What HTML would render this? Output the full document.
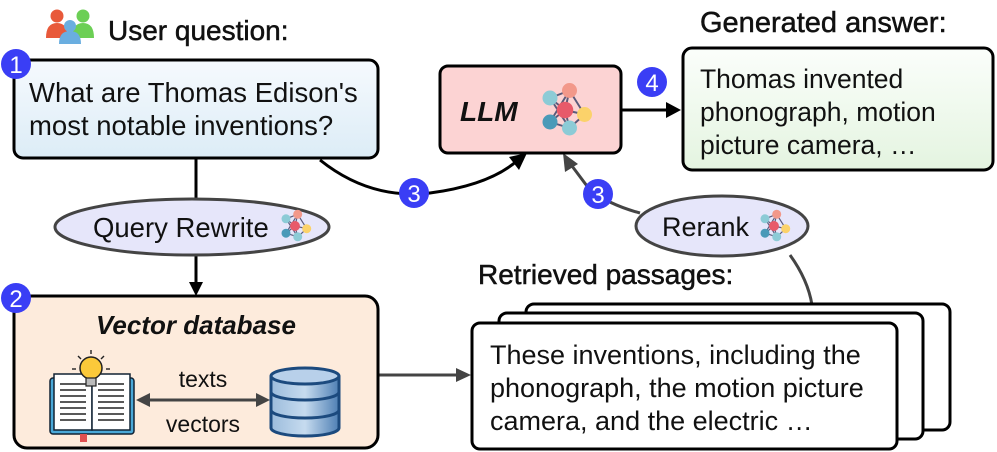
<!DOCTYPE html>
<html><head><meta charset="utf-8"><style>
html,body{margin:0;padding:0;background:#fff;}
svg{display:block;font-family:"Liberation Sans",Arial,sans-serif;}
</style></head><body>
<svg width="997" height="452" viewBox="0 0 997 452" xmlns="http://www.w3.org/2000/svg">
<defs>
<linearGradient id="gq" x1="0" y1="0" x2="0" y2="1"><stop offset="0" stop-color="#f6fafe"/><stop offset="1" stop-color="#dcecf6"/></linearGradient>
<linearGradient id="ga" x1="0" y1="0" x2="0" y2="1"><stop offset="0" stop-color="#fbfefb"/><stop offset="1" stop-color="#e4f4e0"/></linearGradient>
<linearGradient id="gdb" x1="0" y1="0" x2="1" y2="0"><stop offset="0" stop-color="#9cbcdc"/><stop offset="0.5" stop-color="#c6dbef"/><stop offset="1" stop-color="#4e7fb4"/></linearGradient>
<g id="net">
 <g stroke="#5a5a7a" stroke-width="1.3">
  <line x1="-10" y1="-8" x2="3" y2="-13"/><line x1="-10" y1="-8" x2="0" y2="0"/><line x1="-10" y1="-8" x2="3" y2="12"/>
  <line x1="3" y1="-13" x2="0" y2="0"/><line x1="3" y1="-13" x2="13" y2="3"/><line x1="0" y1="0" x2="13" y2="3"/>
  <line x1="-10" y1="8" x2="0" y2="0"/><line x1="-10" y1="8" x2="3" y2="12"/><line x1="0" y1="0" x2="3" y2="12"/><line x1="13" y1="3" x2="3" y2="12"/><line x1="-10" y1="8" x2="3" y2="-13"/>
 </g>
 <circle cx="-10" cy="-8" r="5" fill="#8ccbd6"/><circle cx="3" cy="-13" r="5" fill="#f2988a"/>
 <circle cx="0" cy="0" r="5.5" fill="#e85a6a"/><circle cx="13" cy="3" r="5" fill="#fbd26a"/>
 <circle cx="-10" cy="8" r="5" fill="#4a9ab8"/><circle cx="3" cy="12" r="5" fill="#8ccbd6"/>
</g>
</defs>

<!-- user icon -->
<circle cx="57" cy="16" r="6.5" fill="#e8593a"/><path d="M46,38 q0,-15 11,-15 q11,0 11,15 z" fill="#e8593a"/>
<circle cx="83" cy="16" r="6.5" fill="#6ccf55"/><path d="M72,38 q0,-15 11,-15 q11,0 11,15 z" fill="#6ccf55"/>
<circle cx="70" cy="26" r="6" fill="#6aaee0"/><path d="M59,44 q0,-13 11,-13 q11,0 11,13 z" fill="#6aaee0"/>
<text x="108" y="40" font-size="28" fill="#111" stroke="#111" stroke-width="0.5">User question:</text>

<!-- connectors -->
<line x1="196" y1="158" x2="196" y2="198" stroke="#000" stroke-width="3"/>
<line x1="196" y1="255" x2="196" y2="284" stroke="#000" stroke-width="3"/>
<path d="M189,282 L203,282 L196,296 z" fill="#000"/>
<path d="M320,160 Q370,200 430,193 Q490,185 518,160" fill="none" stroke="#000" stroke-width="3"/>
<path d="M527,153 L509,157 L519,170 z" fill="#000"/>
<path d="M640,213 Q610,205 590,190 L572,166" fill="none" stroke="#444" stroke-width="3"/>
<path d="M563,153 L565,172 L578,164 z" fill="#444"/>
<path d="M790,255 Q808,280 812,305" fill="none" stroke="#444" stroke-width="3"/>
<line x1="621" y1="110" x2="668" y2="110" stroke="#000" stroke-width="3"/>
<path d="M666,102 L681,110 L666,118 z" fill="#000"/>
<line x1="378" y1="375" x2="458" y2="375" stroke="#444" stroke-width="3"/>
<path d="M456,368 L471,375 L456,382 z" fill="#444"/>

<!-- question box -->
<rect x="14" y="60" width="364" height="98" rx="9" fill="url(#gq)" stroke="#000" stroke-width="3"/>
<text font-size="27.5" fill="#111"><tspan x="29" y="102">What are Thomas Edison's</tspan><tspan x="29" y="135">most notable inventions?</tspan></text>
<circle cx="16" cy="64" r="15" fill="#3a3ef5"/><text x="16" y="73" font-size="24" fill="#fff" text-anchor="middle">1</text>

<!-- query rewrite -->
<ellipse cx="192" cy="227" rx="137" ry="28" fill="#e6e6fa" stroke="#444" stroke-width="3"/>
<text x="93" y="237" font-size="27.5" fill="#111">Query Rewrite</text>
<use href="#net" transform="translate(295,226) scale(0.9)"/>

<!-- vector db -->
<rect x="14" y="296" width="364" height="152" rx="13" fill="#fdebdc" stroke="#000" stroke-width="3"/>
<circle cx="16" cy="298" r="15" fill="#3a3ef5"/><text x="16" y="307" font-size="24" fill="#fff" text-anchor="middle">2</text>
<text x="196" y="334" font-size="26" font-style="italic" font-weight="bold" fill="#111" text-anchor="middle">Vector database</text>
<!-- book -->
<rect x="50" y="378" width="84" height="56" rx="3" fill="#4aa8d8" stroke="#123" stroke-width="1.5"/>
<rect x="54" y="374" width="38" height="56" fill="#fff" stroke="#123" stroke-width="1.5"/>
<rect x="92" y="374" width="38" height="56" fill="#fff" stroke="#123" stroke-width="1.5"/>
<g stroke="#222" stroke-width="1.4">
<line x1="60" y1="384" x2="86" y2="384"/><line x1="60" y1="390" x2="86" y2="390"/><line x1="60" y1="396" x2="86" y2="396"/><line x1="60" y1="402" x2="86" y2="402"/><line x1="60" y1="408" x2="86" y2="408"/><line x1="60" y1="414" x2="86" y2="414"/><line x1="60" y1="420" x2="86" y2="420"/>
<line x1="98" y1="384" x2="124" y2="384"/><line x1="98" y1="390" x2="124" y2="390"/><line x1="98" y1="396" x2="124" y2="396"/><line x1="98" y1="402" x2="124" y2="402"/><line x1="98" y1="408" x2="124" y2="408"/><line x1="98" y1="414" x2="124" y2="414"/><line x1="98" y1="420" x2="124" y2="420"/>
</g>
<rect x="80" y="434" width="7" height="8" fill="#e05050"/>
<circle cx="91" cy="368" r="11" fill="#fbc93a" stroke="#222" stroke-width="1.5"/>
<rect x="86" y="378" width="10" height="8" fill="#bbb" stroke="#222" stroke-width="1.2"/>
<g stroke="#222" stroke-width="1.4"><line x1="91" y1="350" x2="91" y2="354"/><line x1="78" y1="356" x2="81" y2="359"/><line x1="104" y1="356" x2="101" y2="359"/><line x1="72" y1="369" x2="76" y2="369"/><line x1="106" y1="369" x2="110" y2="369"/></g>
<!-- double arrow -->
<line x1="148" y1="400" x2="258" y2="400" stroke="#444" stroke-width="3"/>
<path d="M136,400 L150,393 L150,407 z" fill="#444"/><path d="M270,400 L256,393 L256,407 z" fill="#444"/>
<text x="203" y="387" font-size="23" fill="#111" text-anchor="middle">texts</text>
<text x="203" y="432" font-size="23" fill="#111" text-anchor="middle">vectors</text>
<!-- database -->
<g stroke="#1c4a7e" stroke-width="3">
<path d="M271,410 v18 a34,8 0 0 0 68,0 v-18" fill="url(#gdb)"/>
<path d="M271,392 v18 a34,8 0 0 0 68,0 v-18" fill="url(#gdb)"/>
<path d="M271,376 v16 a34,8 0 0 0 68,0 v-16" fill="url(#gdb)"/>
<ellipse cx="305" cy="376" rx="34" ry="8" fill="#b8d0ea"/>
</g>

<!-- LLM -->
<rect x="440" y="66" width="181" height="87" rx="8" fill="#fcd3d3" stroke="#000" stroke-width="3"/>
<text x="460" y="121" font-size="28" font-weight="bold" font-style="italic" fill="#111">LLM</text>
<use href="#net" transform="translate(565,110) scale(1.5)"/>
<circle cx="652" cy="82" r="15" fill="#3a3ef5"/><text x="652" y="91" font-size="24" fill="#fff" text-anchor="middle">4</text>

<!-- answer -->
<text x="700" y="32" font-size="29" fill="#111" stroke="#111" stroke-width="0.5">Generated answer:</text>
<rect x="683" y="48" width="310" height="122" rx="9" fill="url(#ga)" stroke="#000" stroke-width="3"/>
<text font-size="26.5" fill="#111"><tspan x="700" y="88">Thomas invented</tspan><tspan x="700" y="121">phonograph, motion</tspan><tspan x="700" y="154">picture camera, …</tspan></text>

<!-- badges 3 -->
<circle cx="414" cy="193" r="15" fill="#3a3ef5"/><text x="414" y="202" font-size="24" fill="#fff" text-anchor="middle">3</text>
<circle cx="598" cy="194" r="15" fill="#3a3ef5"/><text x="598" y="203" font-size="24" fill="#fff" text-anchor="middle">3</text>

<!-- rerank -->
<ellipse cx="722" cy="226" rx="86" ry="30" fill="#e6e6fa" stroke="#444" stroke-width="3"/>
<text x="662" y="236" font-size="27" fill="#111">Rerank</text>
<use href="#net" transform="translate(774,226) scale(0.9)"/>

<!-- passages -->
<text x="478" y="284" font-size="28" fill="#111" stroke="#111" stroke-width="0.5">Retrieved passages:</text>
<rect x="526" y="304" width="424" height="126" rx="8" fill="#fff" stroke="#000" stroke-width="3"/>
<rect x="499" y="313" width="424" height="126" rx="8" fill="#fff" stroke="#000" stroke-width="3"/>
<rect x="472" y="323" width="425" height="126" rx="8" fill="#fff" stroke="#000" stroke-width="3"/>
<text font-size="27" fill="#111"><tspan x="490" y="364">These inventions, including the</tspan><tspan x="490" y="397">phonograph, the motion picture</tspan><tspan x="490" y="430">camera, and the electric …</tspan></text>
</svg>
</body></html>
